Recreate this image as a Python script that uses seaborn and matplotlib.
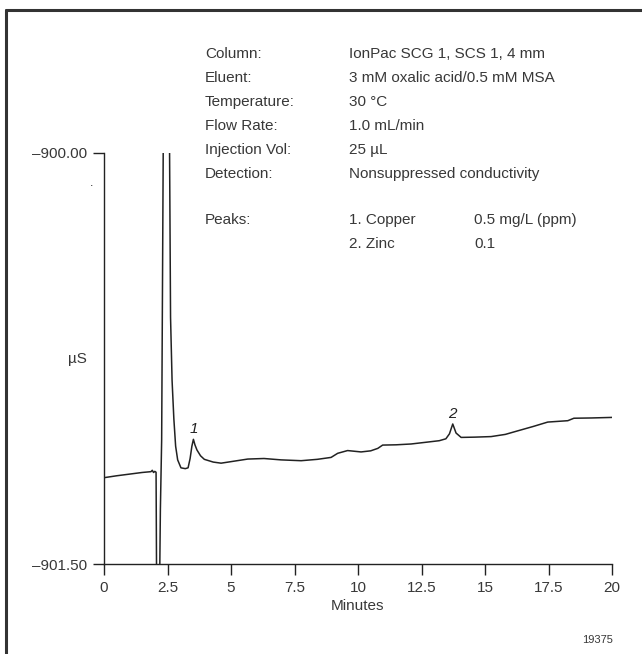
import matplotlib

matplotlib.use("Agg")
import matplotlib.pyplot as plt
from matplotlib.lines import Line2D
import pandas as pd
import seaborn as sns

INK = "#222222"
TEXT = "#383838"

# trace (minutes, µS)
minutes = [0.0, 0.5, 1.0, 1.5, 1.85, 1.9, 1.95, 2.0, 2.05, 2.08, 2.12, 2.17, 2.22, 2.27,
           2.36, 2.45, 2.55, 2.62, 2.68, 2.75, 2.82, 2.9, 3.03, 3.2, 3.31, 3.39,
           3.46, 3.52, 3.58, 3.66, 3.8, 3.95, 4.3, 4.61, 5.1, 5.66, 6.3, 6.97,
           7.76, 8.4, 8.94, 9.2, 9.59, 10.12, 10.5, 10.78, 10.97, 11.5, 12.09,
           12.74, 13.2, 13.46, 13.6, 13.73, 13.86, 14.06, 14.6, 15.24, 15.8,
           16.29, 16.9, 17.47, 18.26, 18.5, 19.2, 20.0]
signal = [-901.185, -901.178, -901.172, -901.166, -901.163, -901.158, -901.166, -901.162,
          -901.165, -901.75, -901.75, -901.75, -901.3, -901.047,
          -899.5, -899.2, -899.5, -900.6, -900.83, -900.97, -901.07, -901.12, -901.149,
          -901.152, -901.149, -901.115, -901.07, -901.045, -901.065, -901.084,
          -901.105, -901.118, -901.128, -901.132, -901.125, -901.117, -901.115,
          -901.12, -901.123, -901.118, -901.111, -901.096, -901.086, -901.091,
          -901.087, -901.078, -901.066, -901.065, -901.062, -901.055, -901.05,
          -901.043, -901.025, -900.989, -901.022, -901.038, -901.037, -901.035,
          -901.027, -901.014, -900.998, -900.982, -900.977, -900.968, -900.967,
          -900.965]

x_ticks = [0, 2.5, 5, 7.5, 10, 12.5, 15, 17.5, 20]
x_tick_labels = ["0", "2.5", "5", "7.5", "10", "12.5", "15", "17.5", "20"]
y_ticks = [-901.5, -900.0]
y_tick_labels = ["\u2013901.50", "\u2013900.00"]

peak_labels = ["1", "2"]
peak_times = [3.52, 13.73]
peak_heights = [-901.045, -900.989]

cond_labels = ["Column:", "Eluent:", "Temperature:", "Flow Rate:", "Injection Vol:", "Detection:"]
cond_values = ["IonPac SCG 1, SCS 1, 4 mm", "3 mM oxalic acid/0.5 mM MSA", "30 \u00b0C",
               "1.0 mL/min", "25 \u00b5L", "Nonsuppressed conductivity"]
peak_names = ["1. Copper", "2. Zinc"]
peak_amounts = ["0.5 mg/L (ppm)", "0.1"]

sns.set_style("white")
plt.rcParams["font.family"] = ["Liberation Sans", "DejaVu Sans"]
FS = 11

df = pd.DataFrame({"Minutes": minutes, "uS": signal})

fig = plt.figure(figsize=(6.42, 6.54), dpi=100)
ax = fig.add_axes([104 / 642, 1 - 564 / 654, 508 / 642, 411 / 654])
sns.lineplot(data=df, x="Minutes", y="uS", ax=ax, color=INK, linewidth=1.1)

ax.set_xlim(0, 20)
ax.set_ylim(-901.5, -900.0)
ax.set_xticks(x_ticks)
ax.set_xticklabels(x_tick_labels)
ax.set_yticks(y_ticks)
ax.set_yticklabels(y_tick_labels)
ax.tick_params(axis="both", direction="out", length=8, width=1, color=INK,
               labelsize=FS, labelcolor=TEXT, pad=4, left=True, bottom=True)
for side in ["top", "right"]:
    ax.spines[side].set_visible(False)
for side in ["left", "bottom"]:
    ax.spines[side].set_color(INK)
    ax.spines[side].set_linewidth(1)
ax.set_xlabel("Minutes", color=TEXT, fontsize=FS, labelpad=3)
ax.set_ylabel("")
ax.text(-0.053, 0.5, "\u00b5S", transform=ax.transAxes, fontsize=FS, color=TEXT,
        ha="center", va="center")
ax.text(-0.025, 0.92, ".", transform=ax.transAxes, fontsize=9, color=INK, ha="center")

for lab, t, h in zip(peak_labels, peak_times, peak_heights):
    ax.text(t, h + 0.012, lab, fontsize=FS, color=INK, style="italic",
            ha="center", va="bottom")

# run conditions block
row_h = 24 / 654
y0 = 1 - 54 / 654
for i, (lab, val) in enumerate(zip(cond_labels, cond_values)):
    y = y0 - i * row_h
    fig.text(205 / 642, y, lab, fontsize=FS, color=TEXT, va="center")
    fig.text(349 / 642, y, val, fontsize=FS, color=TEXT, va="center")
y_peaks = 1 - 220 / 654
fig.text(205 / 642, y_peaks, "Peaks:", fontsize=FS, color=TEXT, va="center")
for i, (name, amt) in enumerate(zip(peak_names, peak_amounts)):
    y = y_peaks - i * row_h
    fig.text(349 / 642, y, name, fontsize=FS, color=TEXT, va="center")
    fig.text(474 / 642, y, amt, fontsize=FS, color=TEXT, va="center")

fig.text(613 / 642, 1 - 640 / 654, "19375", fontsize=8, color=TEXT, ha="right", va="center")

# frame edges (top and left only, as in the cropped original)
fig.add_artist(Line2D([6 / 642, 1], [1 - 10 / 654, 1 - 10 / 654], color="#333333", linewidth=2.2))
fig.add_artist(Line2D([6 / 642, 6 / 642], [0, 1 - 10 / 654], color="#333333", linewidth=2.2))

fig.savefig("out.png", dpi=100, facecolor="white")
plt.close(fig)
